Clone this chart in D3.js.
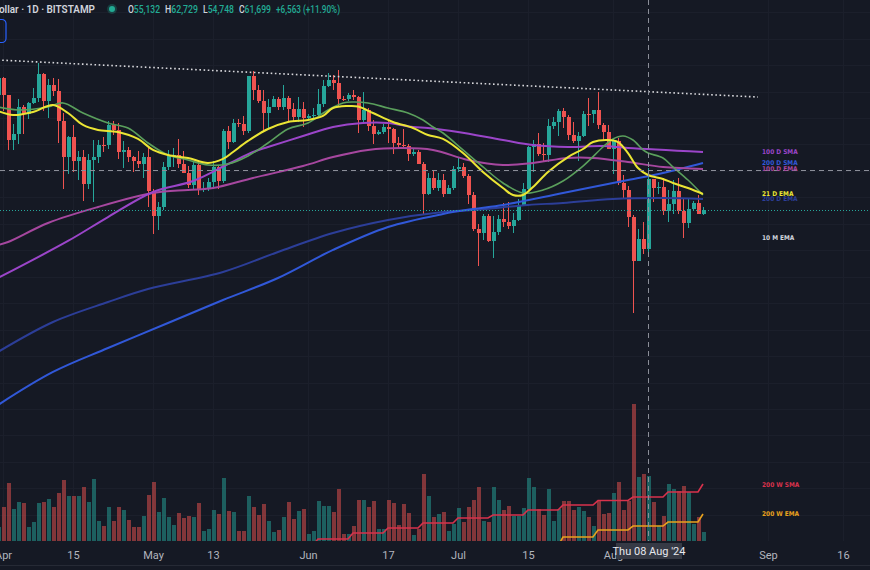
<!DOCTYPE html>
<html>
<head>
<meta charset="utf-8">
<script src="https://d3js.org/d3.v7.min.js"></script>
<style>
	html, body { margin: 0; padding: 0; background: #151924; overflow: hidden; }
	svg { display: block; }
</style>
</head>
<body>
<div id="area"></div>
<script>

/**
* DATA
* ====
* BTC/USD daily candles (Bitstamp), Mar 31 - Aug 19 2024
*/
var firstDay = '2024-03-31';
var lastDay = '2024-08-19';

var opens = [69650,
	71300,69700,65450,65980,68500,67840,68900,69360,71630,69150,70590,70060,67190,63820,65750,63420,63810,61280,63510,63840,64990,64930,66840,66400,64300,64500,63770,63460,63120,63840,
	60630,58250,59120,62890,63890,64030,63160,62330,61190,63050,60790,60810,61450,62900,61550,66270,65230,67050,66940,66280,71450,70140,69120,67930,68540,69290,68510,69400,68370,67630,68350,
	67490,67710,67750,68800,70570,71080,70790,69340,69310,69650,69500,67320,68240,66750,66010,66190,66640,66490,65150,64960,64830,64100,64250,63180,60280,61800,60860,61680,60320,60890,
	62680,62850,62030,60200,57030,56650,58230,55850,56700,58000,57700,57340,57880,59190,60800,64720,65040,64100,63970,66700,67150,68160,67560,65930,65370,65800,67900,67830,68250,66800,66200,
	64600,65350,61400,60690,58120,54020,56040,55132,61699,60880,60940,58710,59350,60600,58740,57560,58880,59480,58430];
var highs = [71370,
	71350,69700,66900,69280,68720,69000,70300,72720,71750,71170,71250,71230,67930,65820,66860,64370,64480,64100,65450,65420,65700,67230,67200,67050,65280,64800,63920,64350,64200,64740,
	60800,59580,63300,64500,64630,65500,64400,62980,63420,63450,61450,61800,63400,63100,66450,66700,67450,67400,67700,71500,71950,70650,70100,69250,69570,69500,70650,69560,68900,69500,69000,
	67850,68420,70200,71050,71750,71600,71990,69550,69850,70150,69560,69980,68400,67300,66400,66950,67250,66550,65700,66450,65050,64530,64500,63360,62300,62450,62300,62200,61200,63000,
	63800,63250,62250,60500,57500,58450,58400,58200,58300,59450,59550,58500,59800,61400,64900,65400,66100,65120,67450,67600,68350,68450,67800,67100,66150,68200,69400,68300,70000,67000,66800,
	65600,65600,62150,61100,58300,57000,57700,62729,61750,61450,61850,60700,61600,61800,59850,59800,59700,60250,59050];
var lows = [69560,
	68150,64500,64500,65060,66000,67450,68800,69050,68200,67500,69600,65100,60800,62200,62350,61650,59700,60800,59600,63200,64300,64530,65850,63600,62800,63300,62400,62800,61800,59100,
	56550,56950,58800,62600,62880,62750,62300,60880,60750,60200,60500,60630,60780,60800,61350,64600,65120,66640,65850,66080,69200,68950,66300,66600,68540,68250,68250,67250,67100,67150,66650,
	67400,67300,67600,68550,70400,70130,68500,69150,69130,69220,66100,66950,66300,65070,65870,66030,65150,64100,64700,64550,63400,63950,63150,58450,60230,60650,60620,60080,60320,60700,
	62400,61850,59400,56800,53550,56000,55800,54300,56400,57200,57000,56600,57750,59150,60650,62400,63950,63300,63350,66450,65800,66600,65400,65100,63450,65750,66700,67050,66450,65300,64550,
	62250,61200,59850,57200,49050,54000,54600,54748,59600,60300,58300,57650,58450,58450,56150,57100,58800,58400,58300];
var closes = [71300,
	69700,65450,65980,68500,67840,68900,69360,71630,69150,70590,70060,67190,63820,65750,63420,63810,61280,63510,63840,64990,64930,66840,66400,64300,64500,63770,63460,63120,63840,60630,
	58250,59120,62890,63890,64030,63160,62330,61190,63050,60790,60810,61450,62900,61550,66270,65230,67050,66940,66280,71450,70140,69120,67930,68540,69290,68510,69400,68370,67630,68350,67490,
	67710,67750,68800,70570,71080,70790,69340,69310,69650,69500,67320,68240,66750,66010,66190,66640,66490,65150,64960,64830,64100,64250,63180,60280,61800,60860,61680,60320,60890,62680,
	62850,62030,60200,57030,56650,58230,55850,56700,58000,57700,57340,57880,59190,60800,64720,65040,64100,63970,66700,67150,68160,67560,65930,65370,65800,67900,67830,68250,66800,66200,64600,
	65350,61400,60690,58120,54020,56040,55136,61699,60880,60940,58710,59350,60600,58740,57560,58880,59480,58430,58800];
var volumes = [1400,
	3400,5800,3200,3900,3800,1400,1900,3800,3900,4200,3400,4800,6100,4500,4500,4500,5400,3900,6200,2000,1500,3400,2000,3400,3100,2100,1400,1400,2500,4600,
	5900,2900,4300,2400,1600,2800,2300,2500,2400,3800,1000,1200,3100,2700,6300,3000,2900,1000,1000,4500,3400,2600,3700,2000,900,1100,2400,3900,2200,3000,3200,
	700,1000,4000,3500,3500,2900,5200,700,700,1500,4100,4100,3400,4000,1200,1200,4100,3800,1600,3700,2800,600,1200,6700,4500,2400,2700,2900,1000,1700,
	3300,1900,3400,4100,5400,2000,1900,5400,4100,3100,3500,2500,2500,3300,6300,5400,3200,2600,5200,2000,3200,4000,4000,3100,3400,3000,2400,1500,4000,2700,2800,
	4800,5900,3100,4000,13700,6400,6700,6500,3900,1500,2500,5700,5200,5000,5500,4900,1700,2400,900];

// moving averages [date, price]
var ema21D = [['2024-03-31',68160],['2024-04-03',67780],['2024-04-07',68070],['2024-04-11',68730],['2024-04-14',67970],['2024-04-17',66840],['2024-04-20',66370],['2024-04-24',66180],['2024-04-28',65520],['2024-05-01',64480],['2024-05-04',64000],['2024-05-08',63720],['2024-05-12',63250],['2024-05-15',63630],['2024-05-17',64290],['2024-05-20',65330],['2024-05-24',66460],['2024-05-28',67120],['2024-06-01',67310],['2024-06-04',67690],['2024-06-06',68440],['2024-06-09',68630],['2024-06-11',68590],['2024-06-14',67970],['2024-06-18',67120],['2024-06-22',66550],['2024-06-25',65890],['2024-06-28',65520],['2024-07-02',64190],['2024-07-06',62400],['2024-07-10',60880],['2024-07-12',60220],['2024-07-14',60220],['2024-07-16',60980],['2024-07-19',62400],['2024-07-23',63810],['2024-07-26',64570],['2024-07-28',65230],['2024-07-31',65420],['2024-08-02',65230],['2024-08-04',64190],['2024-08-06',62770],['2024-08-08',62110],['2024-08-11',61740],['2024-08-13',61360],['2024-08-16',60880],['2024-08-19',60320]];
var sma21D = [['2024-03-31',68540],['2024-04-04',68260],['2024-04-10',68540],['2024-04-13',68920],['2024-04-17',67970],['2024-04-22',67030],['2024-04-26',66550],['2024-04-30',65140],['2024-05-04',64000],['2024-05-08',63530],['2024-05-12',63060],['2024-05-16',63150],['2024-05-20',63910],['2024-05-24',65140],['2024-05-28',66460],['2024-06-01',67030],['2024-06-05',68260],['2024-06-08',68920],['2024-06-10',69010],['2024-06-13',68920],['2024-06-17',68440],['2024-06-21',67970],['2024-06-24',67310],['2024-06-26',66650],['2024-06-28',66080],['2024-07-02',64480],['2024-07-06',62870],['2024-07-10',61360],['2024-07-14',60410],['2024-07-18',60700],['2024-07-22',61550],['2024-07-26',62960],['2024-07-30',64760],['2024-08-01',65520],['2024-08-03',65800],['2024-08-05',65420],['2024-08-07',64480],['2024-08-08',64190],['2024-08-11',63720],['2024-08-13',62870],['2024-08-16',61640],['2024-08-19',60220]];
var sma100D = [['2024-03-31',52380],['2024-04-14',55880],['2024-04-22',58140],['2024-05-01',60510],['2024-05-09',61550],['2024-05-16',63150],['2024-05-21',64290],['2024-05-24',64760],['2024-05-31',65800],['2024-06-06',66650],['2024-06-12',67030],['2024-06-17',67030],['2024-06-22',66650],['2024-06-25',66550],['2024-07-01',66180],['2024-07-10',65420],['2024-07-16',64950],['2024-07-23',64760],['2024-07-30',64850],['2024-08-04',64660],['2024-08-19',64290]];
var ema100D = [['2024-03-31',55500],['2024-04-02',55780],['2024-04-10',57580],['2024-04-20',59090],['2024-05-01',60410],['2024-05-08',60700],['2024-05-13',60880],['2024-05-21',61830],['2024-05-31',62960],['2024-06-06',63810],['2024-06-13',64480],['2024-06-20',64660],['2024-06-26',64480],['2024-07-03',63530],['2024-07-10',63060],['2024-07-16',63250],['2024-07-23',63720],['2024-07-28',63720],['2024-08-04',63340],['2024-08-11',62870],['2024-08-19',62680]];
var sma200D = [['2024-03-31',40380],['2024-04-11',43500],['2024-04-22',45760],['2024-05-04',48130],['2024-05-15',50300],['2024-05-26',52380],['2024-06-06',55030],['2024-06-17',57200],['2024-06-28',58430],['2024-07-04',58900],['2024-07-10',59280],['2024-07-22',60410],['2024-08-04',61640],['2024-08-11',62300],['2024-08-19',63250]];
var ema200D = [['2024-03-31',45390],['2024-04-11',48220],['2024-04-22',50110],['2024-04-30',51340],['2024-05-15',52950],['2024-05-26',54840],['2024-06-06',56630],['2024-06-17',57860],['2024-06-28',58620],['2024-07-04',58800],['2024-07-15',59280],['2024-07-22',59470],['2024-08-01',59850],['2024-08-11',59940],['2024-08-19',59850]];

// weekly lines (value per week, week starts Monday)
var sma200W = [['2024-05-27',27150],['2024-06-03',27720],['2024-06-10',28280],['2024-06-17',28750],['2024-06-24',29230],['2024-07-01',29700],['2024-07-08',29980],['2024-07-15',30460],['2024-07-22',30930],['2024-07-29',31350],['2024-08-05',31680],['2024-08-12',32160],['2024-08-19',32910]];
var ema200W = [['2024-07-15',27050],['2024-07-22',27900],['2024-07-29',28570],['2024-08-05',28940],['2024-08-12',29320],['2024-08-19',30080]];
var ema10M = 56160;

// trend line drawing and crosshair
var trendLine = [['2024-03-31',72980],['2024-08-30',69480]];
var crossDate = '2024-08-08';
var crossPrice = 62585;

// time axis
var tickDates = ['2024-04-01','2024-04-15','2024-05-01','2024-05-13','2024-06-01','2024-06-17','2024-07-01','2024-07-15','2024-08-01','2024-09-01','2024-09-16'];
var tickLabels = ['Apr','15','May','13','Jun','17','Jul','15','Aug','Sep','16'];


/**
* CHART MODULE
* ============
*/
var Chart = (function(){

	var width = 870, height = 570;
	var paneH = 541;
	var up = '#26a69a', down = '#ef5350';
	var parse = d3.utcParse('%Y-%m-%d');
	var svg, x, y, yVol;

	var makeScales = function(){
		x = d3.scaleUtc().domain([parse('2024-04-01'), parse('2024-09-16')]).range([3, 843]);
		y = d3.scaleLinear().domain([78650 - 94.5 * paneH, 78650]).range([paneH, 0]);
		yVol = d3.scaleLinear().domain([0, 14000]).range([paneH, paneH - 140]);
	}

	var bars = function(){
		var days = d3.utcDay.range(parse(firstDay), d3.utcDay.offset(parse(lastDay), 1));
		return days.map(function(d, i){
			return {date: d, o: opens[i], h: highs[i], l: lows[i], c: closes[i], v: volumes[i]};
		});
	}

	var drawGrid = function(g){
		g.selectAll('line.hg').data(d3.range(27500, 80000, 2500)).join('line')
			.attr('x1', 0).attr('x2', width)
			.attr('y1', function(d){ return Math.round(y(d)) + 0.5; })
			.attr('y2', function(d){ return Math.round(y(d)) + 0.5; })
			.attr('stroke', '#1b1f2b');
		g.selectAll('line.vg').data(tickDates.map(parse)).join('line')
			.attr('x1', function(d){ return x(d) + 0.5; }).attr('x2', function(d){ return x(d) + 0.5; })
			.attr('y1', 0).attr('y2', paneH)
			.attr('stroke', '#1b1f2b');
	}

	var drawVolume = function(g, data){
		g.selectAll('rect').data(data).join('rect')
			.attr('x', function(d){ return x(d.date) - 1.5; })
			.attr('width', 4.2)
			.attr('y', function(d){ return yVol(d.v); })
			.attr('height', function(d){ return paneH - yVol(d.v); })
			.attr('fill', function(d){ return d.c >= d.o ? up : down; })
			.attr('fill-opacity', 0.5);
	}

	var drawCandles = function(g, data){
		g.selectAll('line').data(data).join('line')
			.attr('x1', function(d){ return x(d.date) + 0.5; })
			.attr('x2', function(d){ return x(d.date) + 0.5; })
			.attr('y1', function(d){ return y(d.h); })
			.attr('y2', function(d){ return y(d.l); })
			.attr('stroke', function(d){ return d.c >= d.o ? up : down; });
		g.selectAll('rect').data(data).join('rect')
			.attr('x', function(d){ return x(d.date) - 1.5; })
			.attr('width', 4)
			.attr('y', function(d){ return y(Math.max(d.o, d.c)); })
			.attr('height', function(d){ return Math.max(1, Math.abs(y(d.o) - y(d.c))); })
			.attr('fill', function(d){ return d.c >= d.o ? up : down; });
	}

	var drawLine = function(g, pts, color, w){
		var line = d3.line()
			.x(function(d){ return x(parse(d[0])); })
			.y(function(d){ return y(d[1]); })
			.curve(d3.curveCatmullRom.alpha(0.5));
		g.append('path').attr('d', line(pts))
			.attr('fill', 'none').attr('stroke', color).attr('stroke-width', w);
	}

	var drawWeekly = function(g, weeks, color){
		var end = parse(lastDay), pts = [];
		weeks.forEach(function(wk){
			var s = parse(wk[0]);
			var e = d3.utcDay.offset(s, 6);
			if (e > end) e = end;
			pts.push([s, wk[1]]);
			if (+e !== +s) pts.push([e, wk[1]]);
		});
		var line = d3.line().x(function(d){ return x(d[0]); }).y(function(d){ return y(d[1]); });
		g.append('path').attr('d', line(pts))
			.attr('fill', 'none').attr('stroke', color).attr('stroke-width', 1.6);
	}

	var drawLabels = function(g){
		var lx = x(parse(lastDay)) + 59;
		var labels = [
			['100 D SMA', sma100D[sma100D.length-1][1], '#9b45c9'],
			['200 D SMA', sma200D[sma200D.length-1][1], '#3158d8'],
			['100 D EMA', ema100D[ema100D.length-1][1], '#a6479f'],
			['21 D EMA', ema21D[ema21D.length-1][1], '#ebe534'],
			['200 D EMA', ema200D[ema200D.length-1][1], '#2c3e98'],
			['10 M EMA', ema10M, '#d1d4dc'],
			['200 W SMA', sma200W[sma200W.length-1][1], '#d8324c'],
			['200 W EMA', ema200W[ema200W.length-1][1], '#e8a21e']
		];
		g.selectAll('text').data(labels).join('text')
			.attr('x', lx).attr('y', function(d){ return y(d[1]) + 2.5; })
			.attr('fill', function(d){ return d[2]; })
			.style('font', 'bold 6.5px "DejaVu Sans Condensed", "DejaVu Sans", sans-serif')
			.text(function(d){ return d[0]; });
	}

	var drawAxis = function(){
		var axis = d3.axisBottom(x)
			.tickValues(tickDates.map(parse))
			.tickFormat(function(d, i){ return tickLabels[i]; })
			.tickSize(0).tickPadding(0);
		var ag = svg.append('g').attr('transform', 'translate(0,' + (paneH + 10) + ')').call(axis);
		ag.select('.domain').remove();
		ag.selectAll('text')
			.attr('fill', '#b2b5be')
			.style('font', '11px Roboto, "Noto Sans", sans-serif');

		// crosshair date label
		var cx = x(parse(crossDate));
		svg.append('rect').attr('x', cx - 32).attr('y', paneH + 2).attr('width', 66).attr('height', 16)
			.attr('fill', '#363a45');
		svg.append('text').attr('x', cx + 1).attr('y', paneH + 14).attr('text-anchor', 'middle')
			.attr('fill', '#e6e8ee').style('font', '11px Roboto, "Noto Sans", sans-serif')
			.text(d3.utcFormat("%a %d %b '%y")(parse(crossDate)));

		// bottom toolbar border
		svg.append('line').attr('x1', 0).attr('x2', width).attr('y1', 565.5).attr('y2', 565.5)
			.attr('stroke', '#262a35');
	}

	var drawHeader = function(data){
		var idx = data.findIndex(function(d){ return +d.date === +parse(crossDate); });
		var b = data[idx], prev = data[idx - 1];
		var fmt = d3.format(',.0f');
		var chg = b.c - prev.c;
		var font = '500 10.5px Roboto, "Noto Sans", sans-serif';

		svg.append('text').attr('x', -1).attr('y', 13).attr('fill', '#d1d4dc')
			.attr('textLength', 96).attr('lengthAdjust', 'spacingAndGlyphs')
			.style('font', '600 11px Roboto, "Noto Sans", sans-serif').text('ollar \u00b7 1D \u00b7 BITSTAMP');
		svg.append('circle').attr('cx', 112).attr('cy', 9).attr('r', 5).attr('fill', '#22ab94').attr('opacity', 0.25);
		svg.append('circle').attr('cx', 112).attr('cy', 9).attr('r', 3).attr('fill', '#22ab94');

		// one text per O/H/L/C group, squeezed to the width it has in the picture
		var parts = [['O', b.o, 128, 32], ['H', b.h, 165, 33], ['L', b.l, 203, 31], ['C', b.c, 239, 32]];
		parts.forEach(function(p){
			var t = svg.append('text').attr('x', p[2]).attr('y', 13).style('font', font)
				.attr('textLength', p[3]).attr('lengthAdjust', 'spacingAndGlyphs');
			t.append('tspan').attr('fill', '#d1d4dc').text(p[0]);
			t.append('tspan').attr('fill', '#22ab94').text(fmt(p[1]));
		});
		svg.append('text').attr('x', 276).attr('y', 13).style('font', font).attr('fill', '#22ab94')
			.attr('textLength', 64).attr('lengthAdjust', 'spacingAndGlyphs')
			.text('+' + fmt(chg) + ' (+' + d3.format('.2f')(chg / prev.c * 100) + '%)');

		// cut-off button at the left edge
		svg.append('rect').attr('x', -20).attr('y', 19.5).attr('width', 26).attr('height', 23).attr('rx', 4)
			.attr('fill', 'none').attr('stroke', '#2962ff').attr('stroke-width', 1.2);
	}

	var build = function(){
		makeScales();
		var data = bars();

		svg = d3.select('#area').append('svg').attr('width', width).attr('height', height);
		svg.append('rect').attr('width', width).attr('height', height).attr('fill', '#151924');

		svg.append('clipPath').attr('id', 'pane').append('rect')
			.attr('x', 0).attr('y', 0).attr('width', width).attr('height', paneH);

		var pane = svg.append('g').attr('clip-path', 'url(#pane)');
		drawGrid(pane.append('g'));
		drawVolume(pane.append('g').attr('shape-rendering', 'crispEdges'), data);
		drawWeekly(pane, sma200W, '#d8324c');
		drawWeekly(pane, ema200W, '#e8a21e');
		drawCandles(pane.append('g').attr('shape-rendering', 'crispEdges'), data);

		drawLine(pane, ema200D, '#2c3e98', 2);
		drawLine(pane, sma200D, '#3158d8', 2);
		drawLine(pane, ema100D, '#a6479f', 2);
		drawLine(pane, sma100D, '#9b45c9', 2);
		drawLine(pane, sma21D, '#5a9f5c', 1.6);
		drawLine(pane, ema21D, '#ebe534', 2);

		// dotted trend line
		var tl = d3.line().x(function(d){ return x(parse(d[0])); }).y(function(d){ return y(d[1]); });
		pane.append('path').attr('d', tl(trendLine)).attr('fill', 'none')
			.attr('stroke', '#d8d8dc').attr('stroke-width', 1.6).attr('stroke-dasharray', '1.6,2.6');

		// last price line
		var last = data[data.length - 1];
		pane.append('line').attr('x1', 0).attr('x2', width)
			.attr('y1', Math.round(y(last.c)) + 0.5).attr('y2', Math.round(y(last.c)) + 0.5)
			.attr('stroke', '#26a69a').attr('stroke-dasharray', '1,2');

		// crosshair
		var cx = Math.round(x(parse(crossDate))) + 0.5;
		pane.append('line').attr('x1', 0).attr('x2', width)
			.attr('y1', Math.round(y(crossPrice)) + 0.5).attr('y2', Math.round(y(crossPrice)) + 0.5)
			.attr('stroke', '#8b8e98').attr('stroke-dasharray', '5,4');
		svg.append('line').attr('x1', cx).attr('x2', cx).attr('y1', 0).attr('y2', paneH)
			.attr('stroke', '#8b8e98').attr('stroke-dasharray', '5,4');

		drawLabels(svg.append('g'));
		drawAxis();
		drawHeader(data);
	}

	return {
		init: function(){
			build();
		}
	};
})();

Chart.init();
</script>
</body>
</html>
